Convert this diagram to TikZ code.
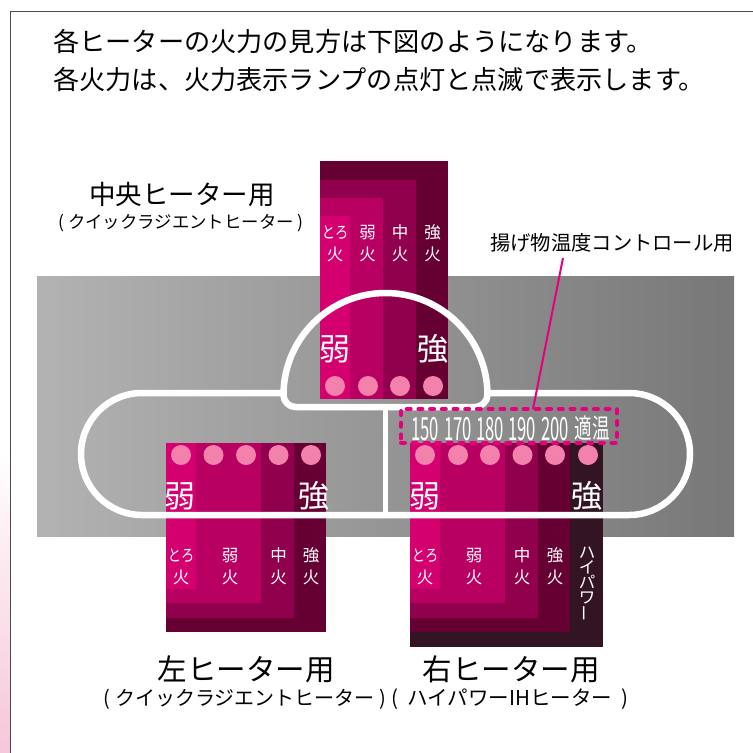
\documentclass[tikz,border=0pt]{standalone}
\usepackage{fontspec}
\setmainfont{Noto Sans CJK JP}
\definecolor{layA}{HTML}{D4006F}
\definecolor{layB}{HTML}{B80062}
\definecolor{layC}{HTML}{90004C}
\definecolor{layD}{HTML}{660033}
\definecolor{layE}{HTML}{331423}
\definecolor{lamp}{HTML}{F282AC}
\definecolor{accent}{HTML}{E6007E}
\definecolor{stripp}{HTML}{F6C6D9}
\newcommand\fs[1]{\fontsize{#1}{#1}\selectfont}
\newcommand\nar[2]{\scalebox{#1}[1]{#2}}
\tikzset{
  txt/.style={inner sep=0pt,anchor=base,text=black},
  big/.style={inner sep=0pt,anchor=base,text=white,font=\fs{31}},
  small/.style={inner sep=0pt,anchor=center,text=white,align=center,font=\fontsize{16.5}{22}\selectfont},
  temp/.style={inner sep=0pt,anchor=base,text=white,font=\fs{32}},
  ring/.style={draw=white,line width=6.5pt,line join=round},
  lampdot/.style={fill=lamp}
}
\begin{document}
\begin{tikzpicture}[x=1pt,y=-1pt]
\useasboundingbox (0,0) rectangle (753,753);
% left strip and frame
\shade[top color=white,bottom color=stripp] (0,450) rectangle (10,753);
\draw[color=black!70,line width=1pt] (753,11.5) -- (10.5,11.5) -- (10.5,753);
% grey band
\shade[left color=black!30,right color=black!53] (37,276) rectangle (734,536);
% centre panel
\fill[layD] (320,161) rectangle (448,399);
\fill[layC] (320,180) rectangle (416,399);
\fill[layB] (320,198) rectangle (383,399);
\fill[layA] (320,216) rectangle (350,399);
% left panel
\fill[layD] (166,443) rectangle (326,632);
\fill[layC] (166,443) rectangle (294,618);
\fill[layB] (166,443) rectangle (261,603);
\fill[layA] (166,443) rectangle (196,589);
% right panel
\fill[layE] (410,443) rectangle (603,647);
\fill[layD] (410,443) rectangle (570,632);
\fill[layC] (410,443) rectangle (538,618);
\fill[layB] (410,443) rectangle (505,603);
\fill[layA] (410,443) rectangle (440,589);
% lamps
\foreach \x in {335,368,400,433} \fill[lampdot] (\x,386) circle[radius=10pt];
\foreach \x in {181,213.5,246,278.5,311} \fill[lampdot] (\x,455) circle[radius=10pt];
\foreach \x in {425,458,490,522.5,555,588} \fill[lampdot] (\x,455) circle[radius=10pt];
% big labels
\node[big] (cw) at (334.5,360) {弱};
\node[big] (cs) at (432.5,360) {強};
\node[big] (lw) at (180,507) {弱};
\node[big] (ls) at (314,507) {強};
\node[big] (rw) at (425,507) {弱};
\node[big] (rs) at (587,507) {強};
% white outline
\draw[ring] (283.5,393) -- (142,393) .. controls (108.3,393) and (81,420.3) .. (81,454) .. controls (81,487.7) and (108.3,515) .. (142,515) -- (629,515) .. controls (662.7,515) and (690,487.7) .. (690,454) .. controls (690,420.3) and (662.7,393) .. (629,393) -- (487.5,393);
\draw[ring] (283.5,395) .. controls (283.5,339) and (329,293) .. (385.5,293) .. controls (442,293) and (487.5,339) .. (487.5,395) .. controls (487.5,401.6) and (481,407) .. (475.5,407) -- (295.5,407) .. controls (289,407) and (283.5,401.6) .. (283.5,395) -- cycle;
\draw[draw=white,line width=5pt] (385.5,407) -- (385.5,515);
% small labels
\node[small] (c1) at (335,245.3) {\strut\nar{.8}{とろ}\\\strut 火};
\node[small] (c2) at (367.5,245.3) {\strut 弱\\\strut 火};
\node[small] (c3) at (400,245.3) {\strut 中\\\strut 火};
\node[small] (c4) at (432.5,245.3) {\strut 強\\\strut 火};
\node[small] (l1) at (181,567.8) {\strut\nar{.8}{とろ}\\\strut 火};
\node[small] (l2) at (230,567.8) {\strut 弱\\\strut 火};
\node[small] (l3) at (278.5,567.8) {\strut 中\\\strut 火};
\node[small] (l4) at (311,567.8) {\strut 強\\\strut 火};
\node[small] (r1) at (425,567.8) {\strut\nar{.8}{とろ}\\\strut 火};
\node[small] (r2) at (474,567.8) {\strut 弱\\\strut 火};
\node[small] (r3) at (522,567.8) {\strut 中\\\strut 火};
\node[small] (r4) at (555,567.8) {\strut 強\\\strut 火};
\node[small,font=\fontsize{16.5}{15}\selectfont] (r5) at (587,584) {ハ\\イ\\パ\\ワ\\\rotatebox{90}{ー}};
% temperatures
\node[temp] (t1) at (425,440) {\nar{.52}{150}};
\node[temp] (t2) at (458,440) {\nar{.52}{170}};
\node[temp] (t3) at (490,440) {\nar{.52}{180}};
\node[temp] (t4) at (522,440) {\nar{.52}{190}};
\node[temp] (t5) at (555,440) {\nar{.52}{200}};
\node[temp,font=\fs{27}] (t6) at (592,438.5) {\nar{.65}{適温}};
% dashed frame and leader
\node[draw=accent,line width=4pt,line cap=round,dash pattern=on 4pt off 7.7pt,minimum width=216pt,minimum height=34pt,inner sep=0pt] (tbox) at (509,426) {};
\node[txt,font=\fs{20.3}] (tctl) at (612,250) {揚げ物温度コントロール用};
\coordinate (leadtop) at (563,258);
\coordinate (leadend) at (533,409);
\draw[accent,line width=2pt] (leadtop) -- (leadend);
% titles
\node[txt,anchor=base west,font=\fs{26.2}] (h1) at (53,51) {各ヒーターの火力の見方は下図のようになります。};
\node[txt,anchor=base west,font=\fs{26.2}] (h2) at (53,89) {各火力は、火力表示ランプの点灯と点滅で表示します。};
\node[txt,font=\fs{26.5}] (cname) at (182,204) {中央ヒーター用};
\node[txt,font=\fs{17.4}] (csub) at (181,228.5) {( クイックラジエントヒーター )};
\node[txt,font=\fs{20}] (lsub) at (245,705) {( クイックラジエントヒーター )};
\node[txt,font=\fs{29.5}] (lname) at (246,680) {左ヒーター用};
\node[txt,font=\fs{29.5}] (rname) at (511,680) {右ヒーター用};
\node[txt,font=\fs{20.5}] (rsub) at (510,705) {(\hspace{5pt} ハイパワーIHヒーター \hspace{5pt})};
\end{tikzpicture}
\end{document}
